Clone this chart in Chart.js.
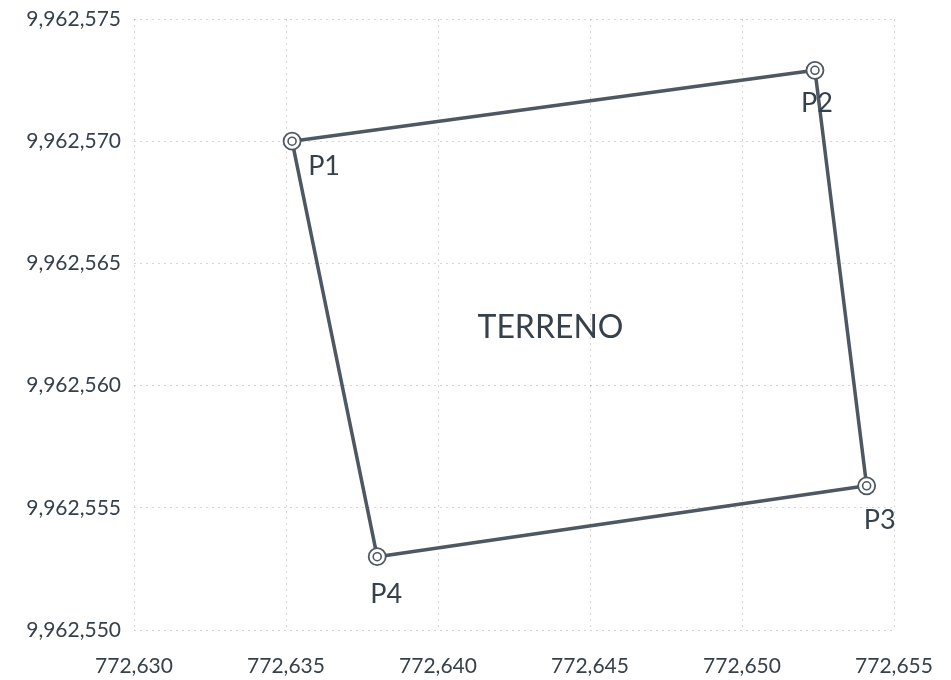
<!DOCTYPE html>
<html><head><meta charset="utf-8">
<script src="https://cdn.jsdelivr.net/npm/chart.js@4"></script>
<style>html,body{margin:0;padding:0;background:#fff}#wrap{width:951px;height:680px}</style>
</head><body><div id="wrap"><canvas id="c"></canvas></div>
<script>
const pointNames = ["P1", "P2", "P3", "P4"];
const eastings = [772635.2, 772652.4, 772654.1, 772638.0];
const northings = [9962570.0, 9962572.9, 9962555.9, 9962553.0];
const areaLabel = "TERRENO";
const areaLabelPos = [772643.7, 9962562.35];
const xTicks = [772630, 772635, 772640, 772645, 772650, 772655];
const yTicks = [9962550, 9962555, 9962560, 9962565, 9962570, 9962575];

const pts = eastings.map((x, i) => ({x: x, y: northings[i]}));
const closed = pts.concat([pts[0]]);
const txt = '#36414c';
const labelOffsets = [[32,25],[2,33],[13,34],[9,38]];

const labelPlugin = {
  id: 'labels',
  afterDatasetsDraw(chart) {
    const ctx = chart.ctx, xs = chart.scales.x, ys = chart.scales.y;
    ctx.save();
    ctx.fillStyle = txt;
    ctx.textAlign = 'center';
    ctx.textBaseline = 'middle';
    ctx.font = '27px Lato';
    pointNames.forEach((n, i) => {
      const px = xs.getPixelForValue(eastings[i]) + labelOffsets[i][0];
      const py = ys.getPixelForValue(northings[i]) + labelOffsets[i][1];
      ctx.fillText(n, px, py);
    });
    ctx.font = '32px Lato';
    ctx.fillText(areaLabel, xs.getPixelForValue(areaLabelPos[0]), ys.getPixelForValue(areaLabelPos[1]));
    ctx.restore();
  }
};

const fmt = v => Number(v).toLocaleString('en-US');
const noPad = s => { s.paddingTop = 0; s.paddingBottom = 0; s.paddingLeft = 0; s.paddingRight = 0; };

new Chart(document.getElementById('c'), {
  type: 'scatter',
  data: {
    datasets: [
      {data: closed, showLine: true, borderColor: '#4d5863', borderWidth: 3.5, pointRadius: 0, order: 2},
      {data: pts, showLine: false, pointRadius: 8.5, pointBorderWidth: 1.8, pointBorderColor: '#4d5863', pointBackgroundColor: '#ffffff', order: 1},
      {data: pts, showLine: false, pointRadius: 4, pointBorderWidth: 1.6, pointBorderColor: '#4d5863', pointBackgroundColor: '#ffffff', order: 0}
    ]
  },
  options: {
    responsive: true, maintainAspectRatio: false, animation: false,
    layout: {padding: {top: 19, right: 57, left: 0, bottom: 0}},
    plugins: {legend: {display: false}, tooltip: {enabled: false}},
    scales: {
      x: {
        type: 'linear', min: xTicks[0], max: xTicks[xTicks.length - 1],
        afterBuildTicks: s => { s.ticks = xTicks.map(v => ({value: v})); },
        afterFit: s => { s.height = 50; noPad(s); },
        grid: {color: 'rgba(0,0,0,0.16)', lineWidth: 1, drawTicks: false},
        border: {display: false, dash: [2, 4]},
        ticks: {padding: 24, color: txt, font: {family: 'Lato', size: 21}, callback: v => fmt(v), maxRotation: 0}
      },
      y: {
        type: 'linear', min: yTicks[0], max: yTicks[yTicks.length - 1],
        afterBuildTicks: s => { s.ticks = yTicks.map(v => ({value: v})); },
        afterFit: s => { s.width = 134; noPad(s); },
        grid: {color: 'rgba(0,0,0,0.16)', lineWidth: 1, drawTicks: false},
        border: {display: false, dash: [2, 4]},
        ticks: {padding: 13, color: txt, font: {family: 'Lato', size: 21}, callback: v => fmt(v)}
      }
    }
  },
  plugins: [labelPlugin]
});
</script></body></html>
